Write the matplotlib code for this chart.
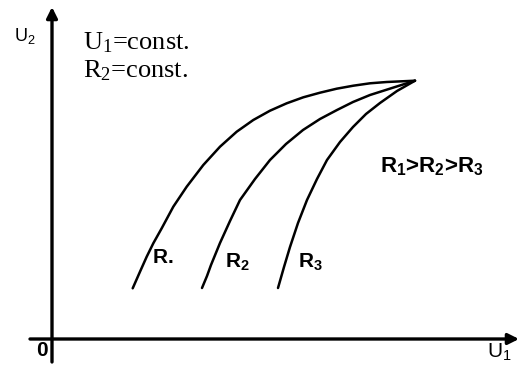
import matplotlib.pyplot as plt

plt.rcParams['mathtext.fontset'] = 'custom'
plt.rcParams['mathtext.rm'] = 'Liberation Serif'
plt.rcParams['mathtext.sf'] = 'Liberation Sans'
plt.rcParams['mathtext.bf'] = 'Liberation Sans:bold'

# --- curve data (U1, U2) for the three load resistances ---
r1_u1 = [8.07, 8.8, 9.47, 10.13, 10.97, 12.13, 13.47, 15.13, 16.8, 18.47, 20.13, 21.8,
         23.47, 25.13, 26.8, 28.47, 30.13, 31.8, 33.47, 36.3]
r1_u2 = [5.07, 6.73, 8.23, 9.57, 11.07, 13.23, 15.23, 17.4, 19.23, 20.73, 21.9, 22.83,
         23.57, 24.17, 24.63, 25.03, 25.33, 25.57, 25.7, 25.83]

r2_u1 = [15.0, 15.5, 15.9, 16.8, 17.8, 18.8, 20.3, 21.8, 23.4, 25.1, 26.8, 28.5, 30.1, 31.8, 34.0, 36.3]
r2_u2 = [5.1, 6.3, 7.4, 9.6, 11.8, 13.9, 16.0, 17.9, 19.5, 20.9, 22.0, 22.9, 23.7, 24.4, 25.1, 25.83]

r3_u1 = [22.6, 23.2, 23.8, 24.6, 25.5, 26.5, 27.5, 28.8, 30.1, 31.4, 32.8, 34.5, 36.3]
r3_u2 = [5.1, 7.2, 9.2, 11.6, 13.9, 16.0, 17.9, 19.7, 21.2, 22.5, 23.6, 24.8, 25.83]

curve_labels = [r'$\mathbf{R.}$', r'$\mathbf{R_2}$', r'$\mathbf{R_3}$']
label_pos = [(10.0, 8.2), (17.3, 7.7), (24.6, 7.7)]

fig = plt.figure(figsize=(5.2, 3.67), dpi=100)
fig.set_facecolor('white')
ax = fig.add_axes([0, 0, 1, 1])
ax.set_xlim(-5.2, 46.8)
ax.set_ylim(-2.8, 33.9)
ax.axis('off')

# axes with arrow heads
arrow = dict(arrowstyle='-|>', lw=2.4, color='black', mutation_scale=16, shrinkA=0, shrinkB=0)
ax.annotate('', xy=(46.7, 0), xytext=(-2.2, 0), arrowprops=arrow)
ax.annotate('', xy=(0, 33.2), xytext=(0, -2.3), arrowprops=arrow)

for xs, ys in [(r1_u1, r1_u2), (r2_u1, r2_u2), (r3_u1, r3_u2)]:
    ax.plot(xs, ys, color='black', lw=1.8, solid_capstyle='round', solid_joinstyle='round')

for lab, (x, y) in zip(curve_labels, label_pos):
    ax.text(x, y, lab, fontsize=15, ha='left', va='center')

ax.text(3.1, 29.6, r'$\mathrm{U_1}$=const.', family='Liberation Serif', fontsize=19, ha='left', va='center')
ax.text(3.1, 26.8, r'$\mathrm{R_2}$=const.', family='Liberation Serif', fontsize=19, ha='left', va='center')

ax.text(32.8, 17.2, r'$\mathbf{R_1}$>$\mathbf{R_2}$>$\mathbf{R_3}$', family='Liberation Sans',
        weight='bold', fontsize=16, ha='left', va='center')

ax.text(-2.7, 30.3, r'$\mathsf{U_2}$', fontsize=13, ha='center', va='center')
ax.text(44.7, -1.3, r'$\mathsf{U_1}$', fontsize=15, ha='center', va='center')
ax.text(-1.0, -1.2, '0', family='Liberation Sans', weight='heavy', fontsize=15, ha='center', va='center')

fig.savefig('out.png', dpi=100, facecolor='white')
plt.close(fig)
